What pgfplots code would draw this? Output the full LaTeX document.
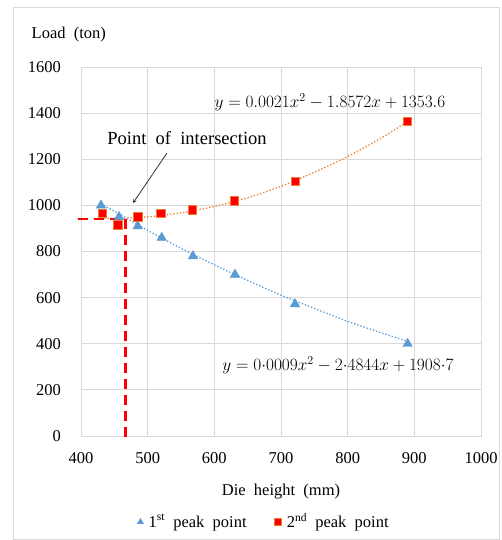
\documentclass[border=0pt]{standalone}
\usepackage{pgfplots}
\pgfplotsset{compat=1.18}
\usepackage{fontspec}
\setmainfont{Liberation Serif}[WordSpace=2]
\definecolor{tblue}{HTML}{5B9BD5}
\definecolor{torange}{HTML}{ED7D31}
\begin{document}
\fontsize{16.5}{19}\selectfont
\begin{tikzpicture}
\useasboundingbox (-81pt,436pt) rectangle (420pt,-104pt);
\fill[white] (-81pt,436pt) rectangle (420pt,-104pt);
\draw[black!15, line width=0.8pt] (-68pt,429pt) rectangle (418pt,-103pt);
\begin{axis}[
  scale only axis, width=400pt, height=369pt,
  xmin=400, xmax=1000, ymin=0, ymax=1600,
  xtick={400,500,...,1000}, ytick={0,200,...,1600},
  grid=major, grid style={draw=black!15, line width=0.8pt},
  axis line style={draw=black!15, line width=0.8pt},
  major tick length=0pt,
  tick label style={font=\fontsize{16.5}{19}\selectfont},
  /pgf/number format/assume math mode=true,
  /pgf/number format/1000 sep={},
  yticklabel style={anchor=east, xshift=-14.5pt},
  xticklabel style={yshift=-11pt},
  clip=false,
  legend style={at={(0.4575,-0.233)}, anchor=center, draw=none, fill=none,
    legend columns=2, font=\fontsize{16.5}{19}\selectfont,
    /tikz/every odd column/.append style={column sep=3pt},
    /tikz/every even column/.append style={column sep=26pt}},
  legend cell align=left,
  legend image post style={mark size=3.6pt},
]
% trend lines (values of the displayed fitted equations)
\addplot[tblue, dotted, line width=1.3pt, smooth, forget plot] coordinates {
 (430,1006.8) (460,958.2) (500,891.5) (550,813.9) (600,742.1) (650,674.8) (700,610.6) (750,553.3) (800,497.2) (850,447.9) (890,410.5)};
\addplot[torange, dotted, line width=1.3pt, smooth, forget plot] coordinates {
 (430,943.3) (460,944.8) (500,950.0) (550,967.7) (600,995.3) (650,1033.0) (700,1082.6) (750,1143.5) (800,1211.8) (850,1291.4) (890,1364.1)};
% data
\addplot[only marks, mark=triangle*, mark size=5.5pt, draw=tblue, fill=tblue] coordinates {
 (430,1000) (457,950) (485,910) (521,860) (568,780) (631,700) (721,572) (890,400)};
\addlegendentry{1\textsuperscript{st} peak point}
\addplot[only marks, mark=square*, mark size=4.2pt, draw=torange, fill=red, line width=0.6pt] coordinates {
 (432,965) (455,915) (485,950) (520,965) (567,980) (630,1020) (721,1105) (889,1365)};
\addlegendentry{2\textsuperscript{nd} peak point}
% intersection guide
\addplot[red, line width=2.5pt, dash pattern=on 10pt off 6pt, forget plot] coordinates {(395,941) (467,941) (467,-17)};
% annotations
\node[font=\fontsize{18.5}{21}\selectfont] at (axis cs:559,1292) {Point of intersection};
\draw[-stealth, black!80, line width=0.8pt] (axis cs:529,1227) -- (axis cs:478,1010);
\node at (axis cs:773.5,1448) {$y=0.0021x^2-1.8572x+1353.6$};
\node at (axis cs:785.5,308) {$y=0{\cdot}0009x^2-2{\cdot}4844x+1908{\cdot}7$};
\end{axis}
\node[anchor=west] at (-55pt,401pt) {Load (ton)};
\node at (200pt,-56pt) {Die height (mm)};
\end{tikzpicture}
\end{document}
